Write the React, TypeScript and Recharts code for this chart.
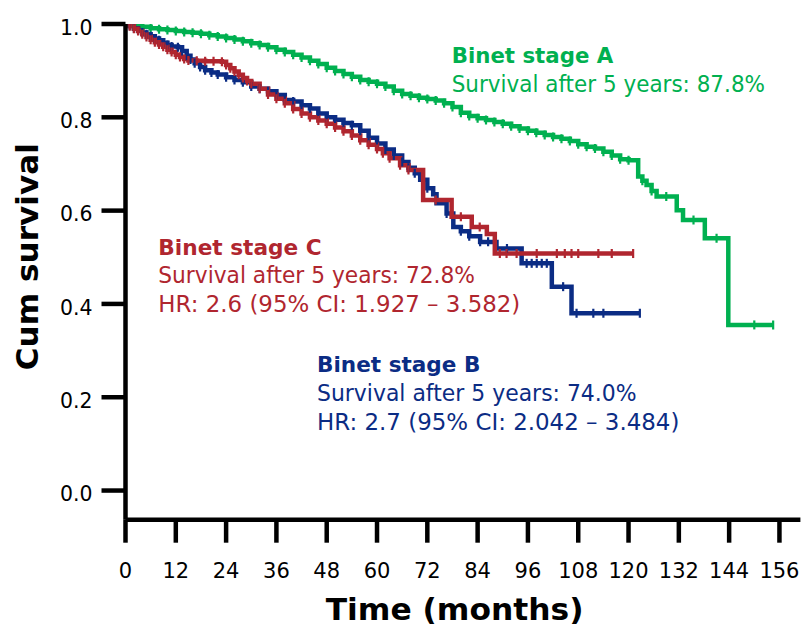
import React from 'react';
import { LineChart, Line, XAxis, YAxis } from 'recharts';

// ---- data ----
const xTicks = [0, 12, 24, 36, 48, 60, 72, 84, 96, 108, 120, 132, 144, 156];
const yTicks = [0, 0.2, 0.4, 0.6, 0.8, 1.0];

// Binet stage A (green)
const timesA = [0,2,4,6,8,10,12,14,16,18,20,22,24,26,28,30,32,34,36,38,40,42,44,46,48,50,52,54,56,58,60,62,64,66,68,70,72,74,76,78,80,82,84,86,88,90,92,94,96,98,100,102,104,106,108,110,112,114,116,118,120,122.3,123.3,124.3,125.5,126.7,129,131.5,133,135.5,138.2,141,143.8,150,154.5];
const survA = [1,0.997,0.994,0.991,0.989,0.987,0.985,0.983,0.981,0.979,0.976,0.973,0.970,0.967,0.963,0.959,0.955,0.950,0.945,0.940,0.934,0.928,0.921,0.914,0.906,0.899,0.893,0.887,0.880,0.876,0.872,0.866,0.857,0.850,0.846,0.842,0.839,0.836,0.830,0.822,0.810,0.803,0.798,0.794,0.790,0.786,0.781,0.776,0.771,0.767,0.762,0.758,0.754,0.749,0.742,0.737,0.733,0.726,0.718,0.710,0.708,0.673,0.664,0.655,0.642,0.630,0.630,0.601,0.580,0.580,0.541,0.541,0.355,0.355,0.355];
const censA = [0,1,1,1,1,1,1,1,1,1,1,1,1,1,1,1,1,1,1,1,1,1,1,1,1,1,1,1,1,1,1,1,1,1,1,1,1,1,1,1,1,1,1,1,1,1,1,1,1,1,1,1,1,1,1,1,1,1,1,1,1,0,1,0,1,0,1,0,0,1,0,1,0,1,1];

// Binet stage B (blue)
const timesB = [0,1,2,3,4,5,6,7,8,9,10,11,12.5,13.5,14.6,15.5,16.5,17.8,19,20.5,22,24,26,28,30,32,34,36,38,40,42,44,46,48,50,52,54,56,58,60,62,64,66,67.5,69,70.3,72,73.4,74.2,76.6,78.2,80,82,84.6,86.5,88.5,91,94.5,95.7,96.9,98.1,99.3,100.5,101.7,104.4,106.4,107.6,111.6,114,122.7];
const survB = [1,0.996,0.991,0.986,0.982,0.978,0.974,0.969,0.965,0.96,0.955,0.952,0.95,0.942,0.932,0.924,0.916,0.908,0.901,0.896,0.892,0.886,0.88,0.875,0.866,0.861,0.856,0.848,0.837,0.834,0.826,0.819,0.808,0.8,0.795,0.788,0.783,0.771,0.756,0.744,0.731,0.718,0.704,0.692,0.68,0.666,0.648,0.635,0.616,0.594,0.565,0.556,0.545,0.533,0.533,0.519,0.519,0.487,0.487,0.487,0.487,0.487,0.487,0.437,0.437,0.38,0.38,0.38,0.38,0.38];
const censB = [0,1,1,1,1,1,1,1,1,1,1,1,1,1,1,1,1,1,1,1,1,1,1,1,1,1,1,1,1,1,1,1,1,1,1,1,1,1,1,1,1,1,1,1,1,0,1,0,0,1,0,1,1,1,1,0,1,0,1,1,1,1,1,0,1,0,1,1,1,1];

// Binet stage C (red)
const timesC = [0,1,2,3,4,5,6,7,8,9,10,11,12,13,14,15,17,19,21,23,24,25,26,27,28,29,30,32,34,36,38,40,42,44,46,48,50,52,54,56,58,60,61.4,63,65.5,67.5,71,74,77.8,80,82.6,84.5,86.2,88.1,89.3,90.9,93.3,98.1,102.9,104.8,106.4,108,112.8,116,121.1];
const survC = [1,0.995,0.99,0.985,0.978,0.972,0.966,0.961,0.956,0.951,0.945,0.94,0.934,0.929,0.925,0.922,0.921,0.92,0.92,0.919,0.912,0.905,0.898,0.891,0.884,0.878,0.872,0.861,0.849,0.84,0.83,0.818,0.808,0.8,0.793,0.786,0.778,0.77,0.761,0.751,0.741,0.732,0.723,0.712,0.697,0.687,0.623,0.623,0.587,0.587,0.565,0.565,0.55,0.508,0.508,0.508,0.508,0.508,0.508,0.508,0.508,0.508,0.508,0.508,0.508];
const censC = [0,1,1,1,1,1,1,1,1,1,1,1,1,1,1,1,1,1,1,1,1,1,1,1,1,1,1,1,1,1,1,1,1,1,1,1,1,1,1,1,1,1,1,1,1,1,0,1,0,1,0,1,0,0,1,1,1,1,1,1,1,1,1,1,1];

const GREEN = '#00b050';
const BLUE = '#0b2c84';
const RED = '#b0262f';
const FONT = '"DejaVu Sans", Verdana, sans-serif';

const build = (ts: number[], vs: number[], cs: number[]) =>
  ts.map((t, i) => ({ t, v: vs[i], c: cs[i] }));

const dataA = build(timesA, survA, censA);
const dataB = build(timesB, survB, censB);
const dataC = build(timesC, survC, censC);

const censorDot = (color: string) => (props: any) => {
  const { cx, cy, payload, index } = props;
  if (!payload || !payload.c || cx == null || cy == null) return <g key={`d${index}`} />;
  return (
    <line key={`d${index}`} x1={cx} x2={cx} y1={cy - 4.5} y2={cy + 4.5} stroke={color} strokeWidth={2.2} />
  );
};

const YTick = (props: any) => {
  const { x, y, payload } = props;
  return (
    <text x={x - 9} y={y + 10.8} textAnchor="end" fontFamily={FONT} fontSize={21} fill="#000" textLength={32.5} lengthAdjust="spacingAndGlyphs">
      {Number(payload.value).toFixed(1)}
    </text>
  );
};

const XTick = (props: any) => {
  const { x, y, payload } = props;
  return (
    <text x={x} y={y + 35.6} textAnchor="middle" fontFamily={FONT} fontSize={21} fill="#000">
      {payload.value}
    </text>
  );
};

export default function App() {
  return (
    <div style={{ position: 'absolute', left: 0, top: 0, width: 809, height: 628, background: '#fff' }}>
      <LineChart width={809} height={628} margin={{ top: 24, right: 8.6, left: 0, bottom: 0 }}>
        <XAxis
          type="number"
          dataKey="t"
          domain={[0, 161]}
          ticks={xTicks}
          allowDataOverflow
          height={108.3}
          tickSize={23}
          tickMargin={0}
          axisLine={{ stroke: '#000', strokeWidth: 4.5 }}
          tickLine={{ stroke: '#000', strokeWidth: 4.5 }}
          tick={<XTick />}
          interval={0}
        />
        <YAxis
          type="number"
          domain={[-0.0625, 1]}
          ticks={yTicks}
          allowDataOverflow
          width={125.5}
          tickSize={24}
          tickMargin={0}
          axisLine={{ stroke: '#000', strokeWidth: 4.5 }}
          tickLine={{ stroke: '#000', strokeWidth: 4.5 }}
          tick={<YTick />}
          interval={0}
        />
        <Line data={dataA} dataKey="v" type="stepAfter" stroke={GREEN} strokeWidth={4.5} dot={censorDot(GREEN)} activeDot={false} isAnimationActive={false} />
        <Line data={dataB} dataKey="v" type="stepAfter" stroke={BLUE} strokeWidth={4.5} dot={censorDot(BLUE)} activeDot={false} isAnimationActive={false} />
        <Line data={dataC} dataKey="v" type="stepAfter" stroke={RED} strokeWidth={4.5} dot={censorDot(RED)} activeDot={false} isAnimationActive={false} />
      </LineChart>
      <svg width={809} height={628} style={{ position: 'absolute', left: 0, top: 0, pointerEvents: 'none' }}>
        <g fontFamily={FONT}>
          <text x={451.7} y={63.3} fontSize={21.5} fontWeight="bold" fill={GREEN} textLength={161.6} lengthAdjust="spacingAndGlyphs">Binet stage A</text>
          <text x={451.7} y={91.7} fontSize={22.5} fill={GREEN} textLength={313.3} lengthAdjust="spacingAndGlyphs">Survival after 5 years: 87.8%</text>

          <text x={158.3} y={255} fontSize={21.5} fontWeight="bold" fill={RED} textLength={163.4} lengthAdjust="spacingAndGlyphs">Binet stage C</text>
          <text x={158.3} y={283.3} fontSize={22.5} fill={RED} textLength={316.7} lengthAdjust="spacingAndGlyphs">Survival after 5 years: 72.8%</text>
          <text x={158.3} y={312.3} fontSize={22.5} fill={RED} textLength={362} lengthAdjust="spacingAndGlyphs">HR: 2.6 (95% CI: 1.927 – 3.582)</text>

          <text x={317} y={371.7} fontSize={21.5} fontWeight="bold" fill={BLUE} textLength={163.4} lengthAdjust="spacingAndGlyphs">Binet stage B</text>
          <text x={317} y={401} fontSize={22.5} fill={BLUE} textLength={319.6} lengthAdjust="spacingAndGlyphs">Survival after 5 years: 74.0%</text>
          <text x={317} y={430} fontSize={22.5} fill={BLUE} textLength={362.4} lengthAdjust="spacingAndGlyphs">HR: 2.7 (95% CI: 2.042 – 3.484)</text>

          <text x={38} y={256.7} transform="rotate(-90, 38, 256.7)" textAnchor="middle" fontSize={31} fontWeight="bold" fill="#000" textLength={227} lengthAdjust="spacingAndGlyphs">Cum survival</text>
          <text x={454.6} y={620} textAnchor="middle" fontSize={31} fontWeight="bold" fill="#000" textLength={257.7} lengthAdjust="spacingAndGlyphs">Time (months)</text>
        </g>
      </svg>
    </div>
  );
}
